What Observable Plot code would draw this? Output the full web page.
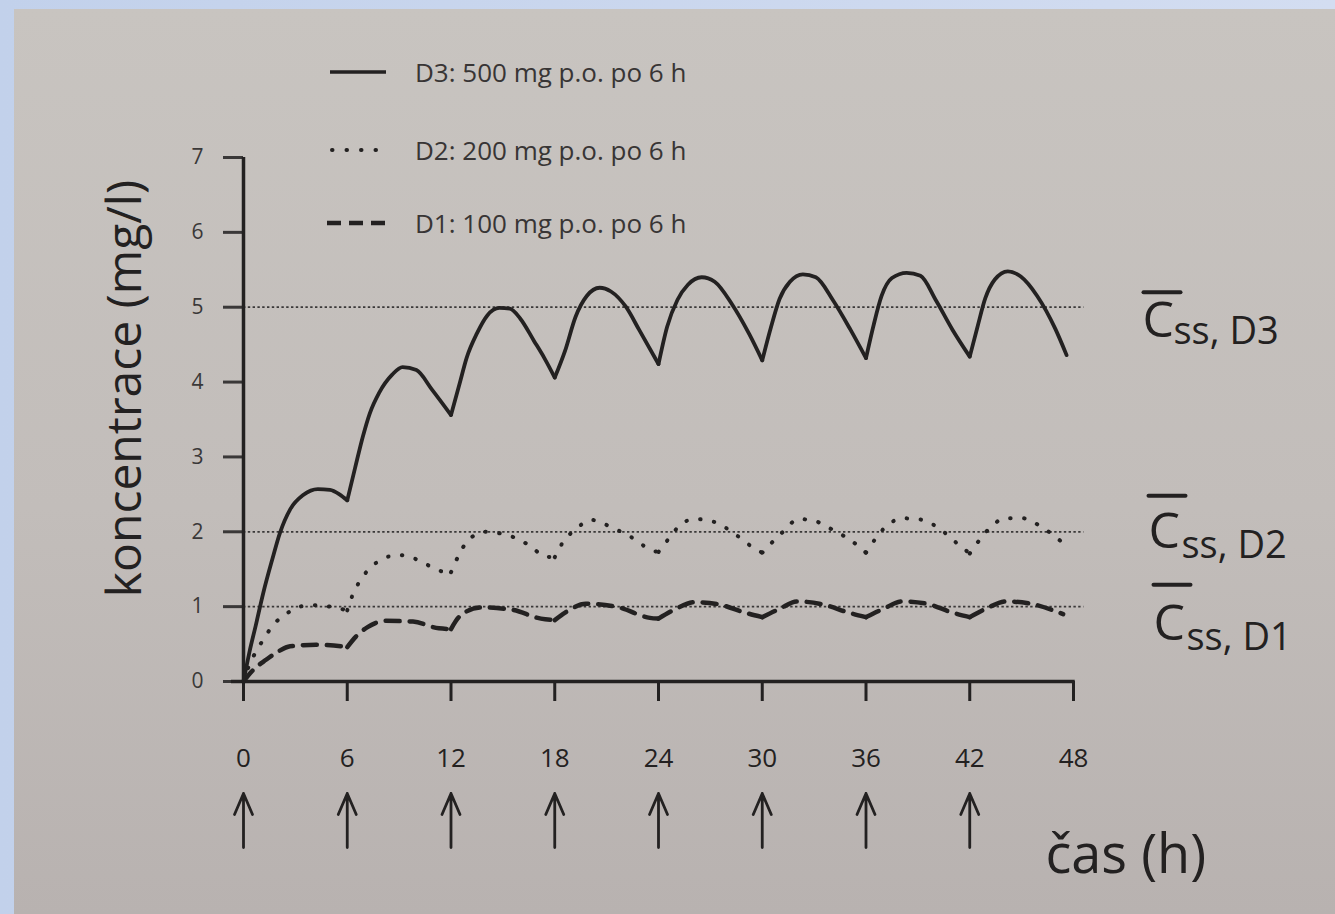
<!DOCTYPE html>
<html><head><meta charset="utf-8">
<script src="https://cdn.jsdelivr.net/npm/d3@7"></script>
<script src="https://cdn.jsdelivr.net/npm/@observablehq/plot@0.6"></script>
<style>
html,body{margin:0;padding:0;}
body{width:1335px;height:914px;background:linear-gradient(90deg,#c2d1eb,#d3ddf1);position:relative;overflow:hidden;font-family:"Open Sans",sans-serif;}
#paper{position:absolute;left:14px;top:9px;width:1321px;height:905px;background:linear-gradient(180deg,#c8c4c0 0%,#c2bdba 55%,#b8b2b0 100%);}
#chart{position:absolute;left:0;top:0;}
.lg-sample{position:absolute;left:312px;width:80px;height:20px;}
.lg-text{position:absolute;left:401px;font-size:26px;color:#383535;line-height:30px;white-space:nowrap;}
</style>
</head><body>
<div id="paper">
  <div id="chart"></div>
  <div id="legend"></div>
</div>
<script>
// ---- data ----
const xTicks = [0, 6, 12, 18, 24, 30, 36, 42, 48];
const yTicks = [0, 1, 2, 3, 4, 5, 6, 7];
const doseTimes = [0, 6, 12, 18, 24, 30, 36, 42];
const doseInterval = 6;
const cssLevels = [5, 2, 1];
const cssNames = ["D3", "D2", "D1"];
const legendLabels = ["D3: 500 mg p.o. po 6 h", "D2: 200 mg p.o. po 6 h", "D1: 100 mg p.o. po 6 h"];
const yTitle = "koncentrace (mg/l)";
const xTitle = "čas (h)";

// [time h, concentration mg/l]
const d3Series = [
  [0,0],[0.35,0.4],[0.7,0.74],[1.15,1.19],[1.65,1.62],[2.1,1.98],[2.7,2.3],[3.45,2.49],[4.3,2.57],[5.0,2.56],[5.55,2.5],[6,2.42],
  [6.45,2.85],[6.9,3.27],[7.3,3.58],[7.85,3.86],[8.6,4.1],[9.2,4.2],[10,4.16],[10.9,3.9],[12,3.56],
  [12.5,3.98],[12.9,4.32],[13.5,4.65],[14.1,4.89],[14.8,4.99],[15.4,4.98],[16,4.85],[16.8,4.55],[17.4,4.32],[18,4.06],
  [18.6,4.42],[19.2,4.87],[19.85,5.15],[20.6,5.26],[21.25,5.21],[22.1,5.01],[22.9,4.69],[24,4.24],
  [24.5,4.74],[25.1,5.1],[25.7,5.3],[26.5,5.4],[27.25,5.34],[28.25,5.04],[29.25,4.64],[30,4.29],
  [30.5,4.73],[31,5.11],[31.6,5.34],[32.35,5.44],[33.1,5.4],[34.1,5.09],[35.1,4.7],[36,4.32],
  [36.45,4.77],[36.9,5.15],[37.5,5.39],[38.35,5.46],[39.15,5.42],[40.05,5.09],[41,4.7],[42,4.34],
  [42.45,4.74],[42.9,5.12],[43.45,5.37],[44.2,5.48],[44.95,5.41],[45.9,5.15],[46.95,4.71],[47.6,4.36]
];
const d2Series = [
  [0,0],[0.3,0.2],[0.7,0.39],[1.15,0.56],[1.7,0.75],[2.45,0.9],[3.25,1.0],[4.1,1.02],[5.0,1.0],[6,0.95],
  [6.3,1.15],[6.75,1.35],[7.25,1.5],[8,1.63],[8.9,1.69],[9.8,1.65],[10.7,1.55],[11.5,1.47],[12,1.46],
  [12.5,1.71],[13,1.89],[14,2.0],[15,1.97],[15.9,1.9],[16.7,1.79],[17.4,1.67],[18,1.66],
  [18.5,1.87],[19.2,2.03],[20.1,2.16],[20.9,2.1],[22,1.98],[22.7,1.89],[23.5,1.76],[24,1.73],
  [24.6,1.91],[25.3,2.1],[26.1,2.17],[27.1,2.14],[28.6,1.94],[29.4,1.8],[30,1.72],
  [31.2,2.0],[32.1,2.17],[33.1,2.14],[33.8,2.06],[35.5,1.82],[36,1.72],
  [37.2,2.08],[38.1,2.18],[39,2.17],[40,2.08],[41.4,1.82],[42,1.71],
  [43.3,2.08],[44,2.18],[45.1,2.18],[45.9,2.1],[47.4,1.85]
];
const d1Series = [
  [0,0],[0.5,0.14],[1.3,0.29],[2,0.4],[2.7,0.47],[4.2,0.49],[5.7,0.47],[6,0.46],
  [6.5,0.6],[7.2,0.73],[8.2,0.81],[9.8,0.8],[11.3,0.71],[12,0.7],
  [12.5,0.87],[13.7,0.99],[15.5,0.96],[17.2,0.84],[18,0.82],
  [18.6,0.92],[19.8,1.04],[21.7,0.99],[23.5,0.85],[24,0.84],
  [25,0.97],[26.1,1.06],[27.5,1.03],[29,0.92],[30,0.86],
  [31,0.97],[32,1.07],[33.5,1.03],[35,0.92],[36,0.86],
  [37,0.97],[38.1,1.07],[39.5,1.04],[41,0.92],[42,0.86],
  [43,0.98],[44.1,1.07],[45.5,1.04],[47.4,0.9]
];

// split each series into dosing intervals (trough cusps shared by neighbours)
function segmentize(name, pts) {
  const rows = [];
  for (const [t, c] of pts) {
    const k = Math.min(Math.floor(t / doseInterval), doseTimes.length - 1);
    rows.push({series: name, seg: name + "-" + k, t, c});
    if (t > 0 && t % doseInterval === 0) rows.push({series: name, seg: name + "-" + (k - 1), t, c});
  }
  return rows;
}
const segD3 = segmentize("D3", d3Series);
const segD2 = segmentize("D2", d2Series);
const segD1 = segmentize("D1", d1Series);
const labelRows = cssLevels.map((level, i) => ({level, name: cssNames[i]}));

const ink = "#232121";
const cOffsets = [{dx: 69, dy: 30}, {dx: 75, dy: 16}, {dx: 80, dy: 33}];
const sOffsets = [{dx: 100, dy: 37}, {dx: 108, dy: 26}, {dx: 113, dy: 43}];
const barOffsets = [{dx: 70, dy: -15}, {dx: 75, dy: -36}, {dx: 80, dy: -22}];

// custom vector shapes: dosing arrow with narrow head, and plain bar (mean line over C)
const doseArrow = {draw(context, l) {
  context.moveTo(0, 0); context.lineTo(0, -l);
  context.moveTo(-9, -l + 21); context.lineTo(0, -l); context.lineTo(9, -l + 21);
}};
const plainBar = {draw(context, l) { context.moveTo(0, 0); context.lineTo(0, -l); }};

const xEnd = () => xTicks[xTicks.length - 1];
const labelMarks = [];
labelRows.forEach((r, i) => {
  labelMarks.push(Plot.vector([r], {x: xEnd, y: "level", rotate: 90, length: 37, anchor: "start", shape: plainBar,
    dx: barOffsets[i].dx, dy: barOffsets[i].dy, stroke: ink, strokeWidth: 4}));
  labelMarks.push(Plot.text([r], {x: xEnd, y: "level", text: () => "C",
    textAnchor: "start", lineAnchor: "bottom", dx: cOffsets[i].dx, dy: cOffsets[i].dy,
    fontSize: 50, fill: ink}));
  labelMarks.push(Plot.text([r], {x: xEnd, y: "level", text: d => "ss, " + d.name,
    textAnchor: "start", lineAnchor: "bottom", dx: sOffsets[i].dx, dy: sOffsets[i].dy,
    fontSize: 38, fill: ink}));
});

const chart = Plot.plot({
  width: 1321, height: 905,
  marginLeft: 229, marginRight: 262, marginTop: 148, marginBottom: 233,
  style: {background: "transparent", color: ink, fontFamily: "Open Sans"},
  x: {domain: [0, 48]},
  y: {domain: [0, 7]},
  marks: [
    Plot.ruleY(cssLevels, {x1: 0, x2: 48.6, stroke: "#3a3838", strokeWidth: 1.8, strokeDasharray: "2.4,2.4"}),
    Plot.axisX({ticks: xTicks, tickSize: 20, tickPadding: 47, fontSize: 26,
      strokeWidth: 3, label: null, tickFormat: d => String(d), color: ink}),
    Plot.axisY({ticks: yTicks, tickSize: 20, tickPadding: 20, fontSize: 21, strokeWidth: 3,
      label: null, tickFormat: d => String(d), color: "#3a3838"}),
    Plot.ruleY([0], {x1: -0.7, x2: 48.1, stroke: ink, strokeWidth: 3.5}),
    Plot.ruleX([0], {y1: 0, y2: 7, stroke: ink, strokeWidth: 3.5}),
    Plot.line(segD1, {x: "t", y: "c", z: "seg", curve: "monotone-x", stroke: ink, strokeWidth: 4.5, strokeDasharray: "14,10"}),
    Plot.line(segD2, {x: "t", y: "c", z: "seg", curve: "monotone-x", stroke: ink, strokeWidth: 4, strokeDasharray: "0.5,13.5", strokeLinecap: "round"}),
    Plot.line(segD3, {x: "t", y: "c", z: "seg", curve: "monotone-x", stroke: ink, strokeWidth: 3.8}),
    Plot.vector(doseTimes, {x: d => d, y: () => 0, length: 54, anchor: "start", shape: doseArrow, dy: 166,
      stroke: ink, strokeWidth: 2.8}),
    Plot.text([xTitle], {frameAnchor: "bottom-right", textAnchor: "start", lineAnchor: "bottom", dx: -28, dy: 191,
      fontSize: 54, fill: ink}),
    Plot.text([yTitle], {frameAnchor: "left", textAnchor: "middle", rotate: -90, lineAnchor: "middle", dx: -118, dy: -31,
      fontSize: 48, fill: ink}),
    ...labelMarks
  ]
});
document.getElementById("chart").appendChild(chart);

// legend
const legend = d3.select("#legend");
const legendStyles = [
  {dash: null, width: 3.5, cap: "butt", x1: 4, x2: 60},
  {dash: "0.5,14", width: 4, cap: "round", x1: 6, x2: 50},
  {dash: "14,8", width: 4.5, cap: "butt", x1: 1, x2: 61}
];
const legendY = [63, 141, 214];
legendLabels.forEach((lab, i) => {
  const s = legendStyles[i];
  const svg = legend.append("svg").attr("class", "lg-sample").attr("width", 80).attr("height", 20)
    .style("top", (legendY[i] - 10) + "px");
  svg.append("line").attr("x1", s.x1).attr("x2", s.x2).attr("y1", 10).attr("y2", 10)
    .attr("stroke", ink).attr("stroke-width", s.width).attr("stroke-linecap", s.cap)
    .attr("stroke-dasharray", s.dash);
  legend.append("div").attr("class", "lg-text").style("top", (legendY[i] - 15) + "px").text(lab);
});
</script>
</body></html>
